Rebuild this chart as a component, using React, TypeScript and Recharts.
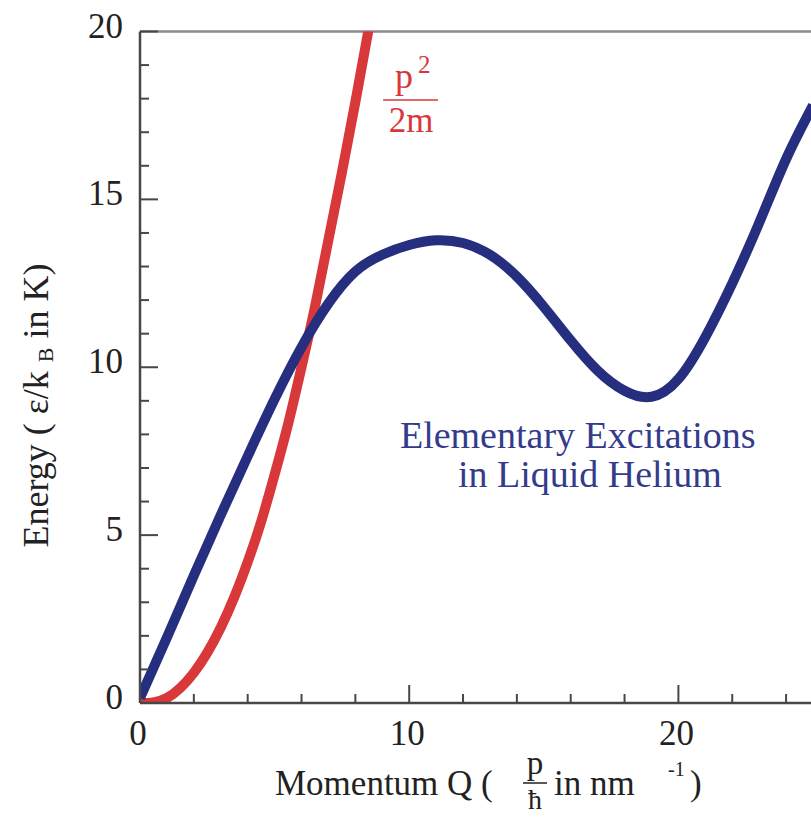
import React from 'react';
import { LineChart, Line, XAxis, YAxis, ReferenceLine, ReferenceDot } from 'recharts';

// Blue curve: elementary excitations (phonon-roton dispersion)
const blueMomentum = [0, 1, 2, 3, 4, 5, 6, 7, 8, 9, 10, 11, 12, 13, 14, 15, 16, 17, 18, 19, 20, 21, 22, 23, 24, 25];
const blueEnergy = [0.15, 1.95, 3.8, 5.6, 7.35, 9.05, 10.6, 11.9, 12.85, 13.35, 13.64, 13.78, 13.7, 13.35, 12.7, 11.8, 10.8, 9.9, 9.3, 9.12, 9.65, 10.9, 12.5, 14.3, 16.2, 17.8];

// Red curve: free particle p^2/2m
const redMomentum = [0, 0.5, 1, 1.5, 2, 2.5, 3, 3.5, 4, 4.5, 5, 5.5, 6, 6.5, 7, 7.5, 8, 8.5, 9];
const redEnergy = [0, 0.02, 0.15, 0.45, 0.9, 1.5, 2.25, 3.15, 4.2, 5.4, 6.8, 8.3, 10.0, 11.8, 13.8, 15.8, 17.9, 20.1, 22.4];

const xTicks = [0, 2, 4, 6, 8, 10, 12, 14, 16, 18, 20, 22, 24];
const xTickLabels = [0, 10, 20];
const yTicks = [0, 1, 2, 3, 4, 5, 6, 7, 8, 9, 10, 11, 12, 13, 14, 15, 16, 17, 18, 19, 20];
const yTickLabels = [0, 5, 10, 15, 20];

const blueData = blueMomentum.map((q, i) => ({ q, e: blueEnergy[i] }));
const redData = redMomentum.map((q, i) => ({ q, e: redEnergy[i] }));

const FONT = '"Liberation Serif", "Times New Roman", serif';
const AXIS = '#474747';
const BLUE = '#262e80';
const BLUE_TEXT = '#343b8b';
const RED = '#d8383a';

const XTick = (props: any) => {
  const { x, y, payload } = props;
  const major = xTickLabels.includes(payload.value);
  return (
    <g>
      <line x1={x} x2={x} y1={y} y2={y - (major ? 18 : 9)} stroke={AXIS} strokeWidth={2} />
      {major && (
        <text x={x - 2} y={y + 42} textAnchor="middle" fontFamily={FONT} fontSize={35} fill="#222">
          {payload.value}
        </text>
      )}
    </g>
  );
};

const YTick = (props: any) => {
  const { x, y, payload } = props;
  const major = yTickLabels.includes(payload.value);
  return (
    <g>
      <line x1={x} x2={x + (major ? 18 : 9)} y1={y} y2={y} stroke={AXIS} strokeWidth={2} />
      {major && (
        <text x={x - 17} y={y + 6} textAnchor="end" fontFamily={FONT} fontSize={35} fill="#222">
          {payload.value}
        </text>
      )}
    </g>
  );
};

const XTitle = (props: any) => {
  const vb = props.viewBox || { x: 140, y: 703 };
  const x0 = vb.x;
  const y0 = vb.y;
  return (
    <g fontFamily={FONT} fill="#222">
      <text x={x0 + 135} y={y0 + 92} fontSize={35}>Momentum Q (</text>
      <text x={x0 + 395} y={y0 + 71} fontSize={33} textAnchor="middle">p</text>
      <line x1={x0 + 383} x2={x0 + 407} y1={y0 + 80} y2={y0 + 80} stroke="#222" strokeWidth={1.5} />
      <text x={x0 + 395} y={y0 + 106} fontSize={28} textAnchor="middle">ħ</text>
      <text x={x0 + 414} y={y0 + 92} fontSize={35}>in nm</text>
      <text x={x0 + 528} y={y0 + 73} fontSize={20}>-1</text>
      <text x={x0 + 550} y={y0 + 92} fontSize={35}>)</text>
    </g>
  );
};

const YTitle = (props: any) => {
  const vb = props.viewBox || { x: 0, y: 31.5 };
  return (
    <text
      transform={`translate(${vb.x + 48}, ${vb.y + 374}) rotate(-90)`}
      textAnchor="middle"
      fontFamily={FONT}
      fontSize={36}
      fill="#222"
    >
      Energy ( ε/k <tspan fontSize={22} dy={5}>B</tspan>
      <tspan dy={-5}> in K)</tspan>
    </text>
  );
};

const P2mLabel = (props: any) => {
  const vb = props.viewBox || { x: 383, y: 100 };
  const x = vb.x;
  const y = vb.y;
  return (
    <g fontFamily={FONT} fill={RED}>
      <text x={x + 21} y={y - 12} fontSize={36} textAnchor="middle">p</text>
      <text x={x + 35} y={y - 27} fontSize={25}>2</text>
      <line x1={x} x2={x + 55} y1={y} y2={y} stroke={RED} strokeWidth={1.5} />
      <text x={x + 28} y={y + 32} fontSize={35} textAnchor="middle">2m</text>
    </g>
  );
};

const ExcitationLabel = (props: any) => {
  const vb = props.viewBox || { x: 402, y: 448 };
  const x = vb.x;
  const y = vb.y;
  return (
    <g fontFamily={FONT} fill={BLUE_TEXT} fontSize={38}>
      <text x={x - 2} y={y}>Elementary Excitations</text>
      <text x={x + 56} y={y + 39}>in Liquid Helium</text>
    </g>
  );
};

export default function App() {
  return (
    <div style={{ position: 'absolute', left: 0, top: 0, width: 811, height: 817, overflow: 'hidden', background: '#fff' }}>
      <LineChart width={813} height={817} margin={{ top: 31.5, right: 0, bottom: 0, left: 0 }}>
        <XAxis
          type="number"
          dataKey="q"
          domain={[0, 25]}
          allowDataOverflow
          ticks={xTicks}
          interval={0}
          height={114}
          tickSize={0}
          tickMargin={0}
          tickLine={false}
          axisLine={{ stroke: AXIS, strokeWidth: 2.5 }}
          tick={<XTick />}
          label={<XTitle />}
        />
        <YAxis
          type="number"
          domain={[0, 20]}
          allowDataOverflow
          ticks={yTicks}
          interval={0}
          width={140}
          tickSize={0}
          tickMargin={0}
          tickLine={false}
          axisLine={{ stroke: AXIS, strokeWidth: 2.5 }}
          tick={<YTick />}
          label={<YTitle />}
        />
        <ReferenceLine y={20} stroke="#8a8a8a" strokeWidth={2.5} />
        <Line
          data={redData}
          dataKey="e"
          type="natural"
          stroke={RED}
          strokeWidth={10}
          dot={false}
          isAnimationActive={false}
        />
        <Line
          data={blueData}
          dataKey="e"
          type="natural"
          stroke={BLUE}
          strokeWidth={10}
          dot={false}
          isAnimationActive={false}
        />
        <ReferenceDot x={9.03} y={17.96} r={0} fill="none" stroke="none" label={<P2mLabel />} />
        <ReferenceDot x={9.73} y={7.6} r={0} fill="none" stroke="none" label={<ExcitationLabel />} />
      </LineChart>
    </div>
  );
}
